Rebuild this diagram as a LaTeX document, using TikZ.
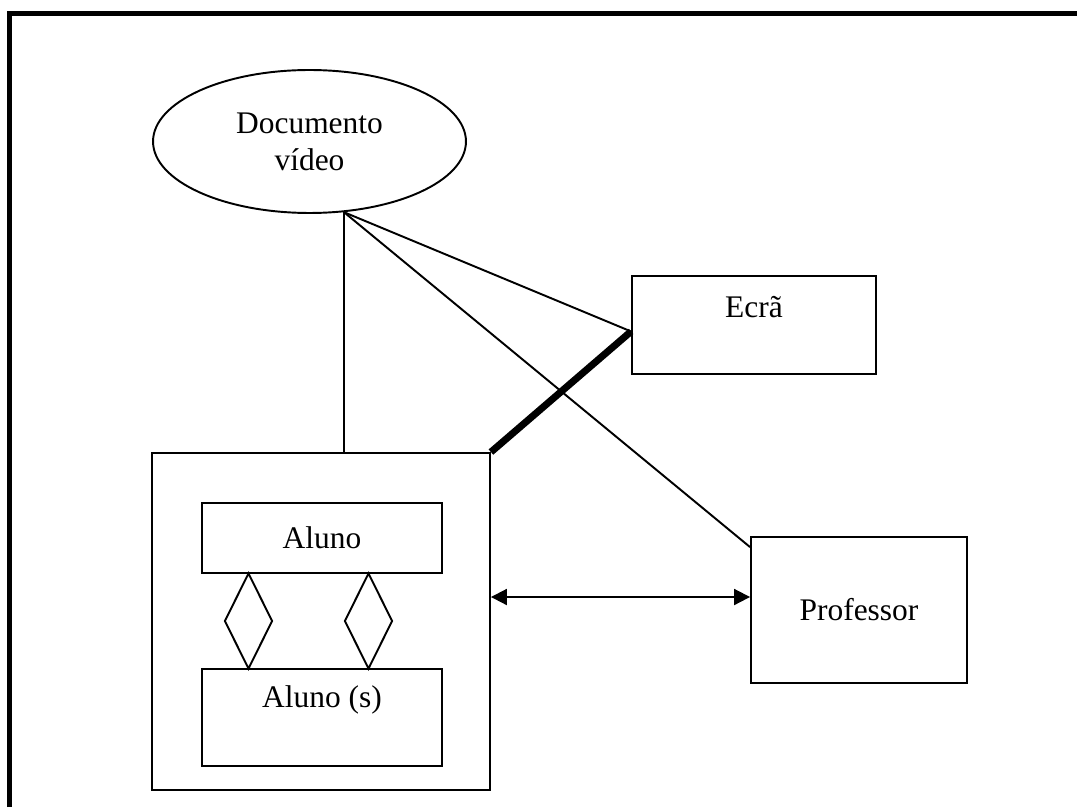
\documentclass[tikz,border=0pt]{standalone}
\usepackage{fontspec}
\setmainfont{Liberation Serif}
\usetikzlibrary{shapes.geometric,arrows.meta}
\begin{document}
\begin{tikzpicture}[x=0.02cm,y=-0.02cm,
font=\fontsize{17.9}{21}\selectfont,
box/.style={
% The shape:
rectangle,
draw=black,
line width=1.1pt,
inner sep=0pt
},
oval/.style={
ellipse,draw=black,line width=1.1pt,inner sep=0pt,
minimum width=6.26cm,minimum height=2.86cm,align=center
},
losango/.style={
diamond,draw=black,line width=1.1pt,inner sep=0pt,
minimum width=0.96cm,minimum height=1.92cm
},
fio/.style={line width=1.1pt},
grosso/.style={line width=4pt},
arr/.style={line width=1.1pt,{Triangle[length=0.32cm,width=0.32cm]}-{Triangle[length=0.32cm,width=0.32cm]}},
frame/.style={line width=3.1pt}
]
\useasboundingbox (0,0) rectangle (1077,807);
% Frame (only top and left are seen):
\draw[frame] (9.5,807) |- (1077,13.5);
% Nodes:
\node (doc) [oval] at (309.5,141.5) {Documento\\vídeo};
\node (ecra) [box,minimum width=4.88cm,minimum height=1.96cm,
  label={[anchor=base,yshift=-0.84cm]north:Ecrã}] at (754,325) {};
\node (grupo) [box,minimum width=6.76cm,minimum height=6.74cm] at (321,621.5) {};
\node (aluno) [box,minimum width=4.8cm,minimum height=1.4cm] at (322,538) {Aluno};
\node (alunos) [box,minimum width=4.8cm,minimum height=1.94cm,
  label={[anchor=base,yshift=-0.78cm]north:Aluno (s)}] at (322,717.5) {};
\node (losA) [losango] at (248.5,621) {};
\node (losB) [losango] at (368.5,621) {};
\node (prof) [box,minimum width=4.32cm,minimum height=2.92cm] at (859,610) {Professor};
% Connectors:
\draw[fio] (doc.-64) -- (doc.-64 |- grupo.north);
\draw[fio] (doc.-64) -- (ecra.183.75);
\draw[fio] (doc.-64) -- (prof.150.1);
\draw[grosso] (grupo.north east) -- (ecra.183.75);
\draw[arr] ([yshift=0.49cm]grupo.east) -- ([yshift=0.49cm]grupo.east -| prof.west);
\end{tikzpicture}
\end{document}
